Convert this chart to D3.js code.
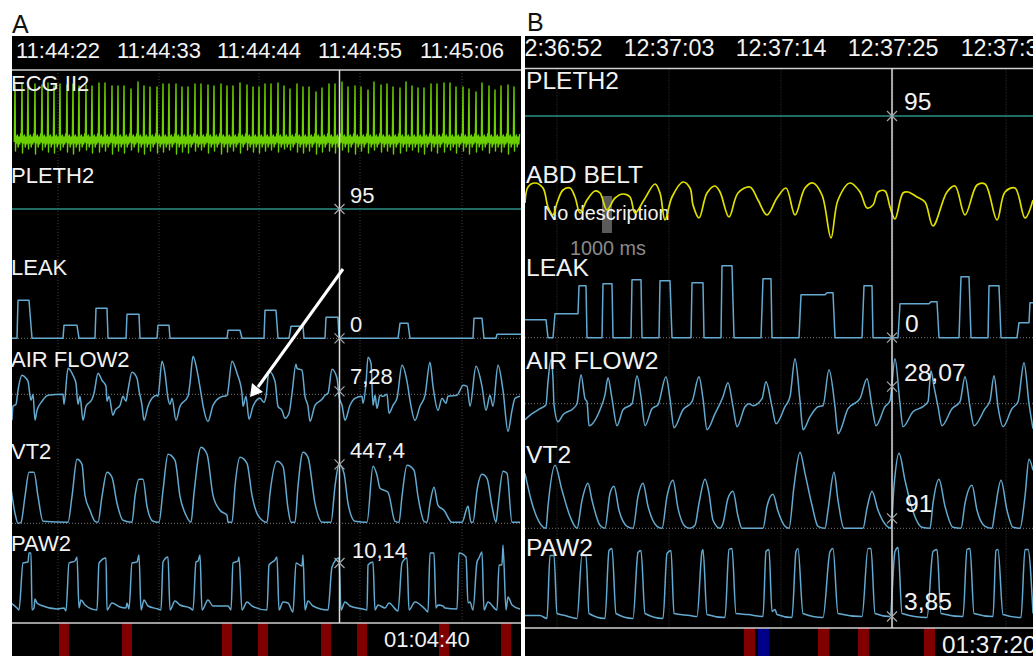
<!DOCTYPE html>
<html>

<head>
    <meta charset="utf-8" />
    <title>respiratory traces</title>
    <script src="https://cdn.jsdelivr.net/npm/d3@7"></script>
    <style>
        html,
        body {
            margin: 0;
            background: #fff;
        }

        svg {
            display: block;
        }

        text {
            font-family: "Liberation Sans", Arial, sans-serif;
        }
    </style>
</head>

<body>
    <div id="svg-canvas"></div>
    <script>
        // traces are [sample, level], one monitor sample per column, level is raw height above the strip zero
        var aTimeLabels = ['11:44:22', '11:44:33', '11:44:44', '11:44:55', '11:45:06'];
        var aTimeSamples = [46, 147, 247, 348, 450];
        var bTimeLabels = ['12:36:52', '12:37:03', '12:37:14', '12:37:25', '12:37:36'];
        var bTimeSamples = [32, 144, 256, 368, 481];

        var aEventsRed = [47, 110, 210, 246, 309, 345, 427, 489];
        var bEventsRed = [219, 293, 333, 399];
        var bEventsBlue = [233];

        var ecgBeats = [3, 10, 16, 23, 30, 36, 42, 48, 55, 61, 67, 74, 80, 87, 93, 100, 106, 112, 119, 126, 132, 138, 145, 151, 157, 164, 170, 176, 183, 189, 196, 202, 209, 215, 221, 228, 235, 241, 247, 253, 259, 266, 272, 278, 285, 291, 297, 304, 310, 317, 323, 330, 336, 343, 349, 356, 362, 369, 375, 381, 388, 394, 400, 406, 412, 419, 425, 432, 438, 444, 451, 457, 464, 470, 477, 483, 489, 496, 502];
        var ecgPeaks = [54, 55, 53, 55, 54, 56, 53, 55, 54, 55, 53, 54, 53, 56, 56, 53, 53, 53, 50, 57, 53, 52, 52, 55, 55, 55, 52, 52, 55, 55, 54, 53, 55, 53, 53, 56, 54, 52, 52, 55, 55, 56, 53, 50, 55, 52, 52, 47, 51, 55, 55, 57, 52, 53, 52, 49, 57, 54, 55, 52, 51, 57, 53, 51, 51, 55, 55, 56, 56, 52, 52, 50, 47, 56, 53, 49, 53, 54, 52];
        var ecgTroughs = [-12, -14, -10, -15, -11, -13, -14, -11, -13, -15, -12, -11, -14, -13, -12, -15, -12, -14, -11, -13, -15, -12, -14, -13, -11, -15, -13, -14, -12, -11, -14, -12, -15, -13, -12, -14, -11, -13, -14, -12, -11, -13, -10, -11, -13, -14, -12, -15, -13, -12, -14, -11, -13, -15, -12, -14, -11, -13, -12, -15, -14, -12, -11, -13, -15, -12, -14, -13, -11, -14, -12, -15, -13, -11, -14, -12, -13, -15, -12];
        // one beat after the spike, offset in samples and level, repeated under every spike
        var ecgBeatTail = [[0.9, 3], [1.6, -4], [2.4, 4], [3.2, -8], [4.0, 2], [4.8, -5], [5.6, 5]];

        var aLeak = [[-1, 0], [5, 0], [6, 38], [17, 38], [20, 0], [51, 0], [52, 13], [65, 13], [67, 0], [83, 0], [84, 30], [95, 30], [96, 0], [114, 0], [115, 24], [127, 24], [128, 0], [145, 0], [146, 13], [157, 13], [158, 0], [215, 0], [216, 8], [228, 8], [230, 0], [252, 0], [253, 28], [264, 28], [266, 0], [277, 0], [279, 12], [291, 12], [292, 0], [313, 0], [314, 21], [326, 21], [327, 0], [386, 0], [388, 15], [396, 15], [398, 0], [461, 0], [462, 20], [470, 20], [472, 0], [484, 0], [485, 4], [509, 4]];

        var aAirFlow = [[0, -26], [1, -12], [4, -10], [6, 4], [10, 19], [14, 16], [16, 13], [19, -6], [21, 0], [23, -26], [25, -16], [30, -7], [36, -1], [51, 0], [52, -10], [56, 26], [61, 19], [64, 11], [66, -10], [68, -2], [71, -26], [74, -12], [80, -5], [82, 1], [86, 21], [90, 14], [94, 8], [95, -7], [97, -2], [101, -21], [103, -16], [108, -11], [111, -2], [114, -7], [116, 4], [120, 22], [125, 16], [127, 4], [130, -11], [132, -26], [136, -12], [140, -4], [145, -1], [146, -2], [150, 33], [153, 21], [156, -4], [158, -10], [160, -4], [164, -26], [168, -12], [176, -2], [178, 11], [181, 38], [185, 24], [189, 1], [191, -11], [196, -27], [201, -11], [208, -3], [215, -1], [220, 33], [225, 21], [230, 1], [231, -12], [234, -2], [237, -25], [241, -12], [248, -4], [252, -8], [254, -2], [257, 23], [263, 13], [266, -12], [270, -16], [273, -24], [277, -19], [280, 1], [284, 30], [285, 26], [290, 24], [293, -2], [296, -12], [298, -27], [303, -11], [310, -5], [313, -1], [316, 1], [320, 25], [325, 16], [327, -2], [330, -11], [333, -26], [338, -11], [343, -4], [350, -2], [351, -9], [354, 11], [356, 37], [359, 31], [361, -11], [363, -1], [365, -14], [368, -1], [371, -2], [375, 0], [377, -19], [381, -11], [385, -4], [390, 29], [395, 13], [398, -6], [403, -26], [408, -12], [413, -1], [418, 32], [421, 8], [426, -16], [430, -4], [434, -9], [436, -2], [445, -1], [448, 4], [451, 9], [455, 8], [458, -12], [464, 28], [470, 8], [474, -16], [478, -1], [481, -12], [486, 29], [491, 4], [496, -37], [500, -16], [503, -4], [508, -2]];

        var aVt = [[-1, 35], [3, 10], [6, 0], [9, 1], [13, 27], [17, 51], [22, 51], [26, 27], [31, 2], [56, 1], [60, 27], [65, 64], [70, 59], [73, 28], [78, 13], [83, 2], [86, 1], [90, 27], [95, 51], [100, 46], [105, 20], [111, 3], [120, 1], [123, 27], [127, 44], [131, 44], [135, 17], [141, 2], [147, 1], [151, 33], [156, 69], [163, 63], [168, 27], [174, 8], [179, 1], [182, 30], [189, 76], [195, 69], [201, 28], [208, 13], [215, 8], [216, 1], [220, 1], [223, 37], [228, 66], [235, 60], [240, 28], [246, 8], [255, 1], [258, 30], [265, 62], [271, 57], [276, 15], [279, 1], [283, 1], [286, 37], [291, 71], [296, 66], [303, 20], [310, 1], [319, 1], [323, 37], [327, 59], [332, 50], [336, 20], [343, 2], [355, 1], [361, 57], [365, 48], [368, 35], [376, 31], [383, 2], [387, 1], [390, 27], [395, 58], [402, 53], [406, 27], [412, 2], [415, 1], [418, 20], [422, 36], [426, 18], [432, 13], [440, 1], [450, 1], [456, 17], [459, 1], [461, 1], [465, 33], [470, 49], [475, 45], [480, 17], [484, 1], [486, 17], [491, 52], [495, 50], [500, 1], [508, 1]];

        var aPaw = [[-1, 7], [5, 2], [7, 0], [11, 47], [16, 48], [17, 57], [19, 57], [20, 0], [22, 2], [23, 11], [25, 7], [31, 4], [45, 1], [52, 2], [54, -1], [57, 47], [63, 49], [65, 53], [67, 2], [69, 10], [73, 5], [85, 0], [87, 47], [94, 52], [95, 0], [100, 7], [108, 3], [114, 2], [115, 7], [117, 1], [120, 47], [125, 48], [127, 55], [129, 0], [132, 10], [136, 4], [146, 1], [149, 0], [151, 48], [156, 53], [158, 0], [163, 9], [168, 5], [178, 2], [181, 0], [184, 48], [186, 49], [188, 55], [190, 0], [196, 10], [201, 4], [216, 4], [219, 0], [221, 47], [226, 49], [227, 53], [230, 0], [235, 8], [240, 4], [255, 0], [257, 45], [263, 50], [265, 53], [267, 0], [271, 8], [276, 7], [281, -2], [284, 47], [290, 44], [291, 55], [293, 0], [296, 9], [301, 4], [316, 0], [320, 43], [327, 52], [329, 0], [333, 8], [338, 4], [351, 1], [355, 0], [356, 45], [361, 48], [363, 0], [366, 5], [373, 2], [377, 7], [386, -1], [390, 47], [395, 52], [397, 0], [403, 8], [413, 1], [416, -2], [418, 57], [422, 57], [424, 2], [426, 5], [431, 4], [433, 2], [445, 1], [447, 57], [454, 53], [456, 7], [458, 8], [461, 0], [465, 48], [467, 52], [470, 58], [472, 0], [476, 8], [485, 0], [487, 45], [490, 45], [491, 65], [494, 0], [496, 13], [500, 5], [508, 1]];

        var bAbdBelt = [[0, -3], [3, 13], [10, 17], [18, 12], [23, -7], [28, -15], [32, -3], [38, 10], [45, 12], [50, 3], [55, -13], [62, 0], [70, 9], [75, 7], [82, -10], [90, 2], [98, 6], [105, 3], [110, -13], [119, 0], [130, 16], [135, 7], [140, -20], [147, 3], [158, 18], [165, 12], [168, -5], [174, -18], [182, 7], [190, 14], [195, 8], [204, -17], [213, 7], [225, 13], [233, 0], [242, -15], [252, 2], [261, 12], [270, -15], [280, 12], [288, 17], [297, 5], [306, -38], [313, 0], [325, 17], [335, 8], [342, -8], [348, -5], [353, 8], [360, 9], [365, -7], [370, -19], [378, 7], [383, 8], [392, 3], [400, -2], [408, -26], [422, 8], [430, 14], [440, -15], [452, 15], [460, 16], [472, -20], [480, 8], [490, 12], [500, -18], [508, 0]];

        var bLeak = [[0, 18], [21, 18], [23, 0], [28, 0], [30, 24], [53, 24], [54, 52], [61, 52], [62, 0], [77, 0], [78, 54], [87, 54], [88, 0], [106, 0], [107, 58], [116, 58], [117, 0], [134, 0], [135, 57], [145, 57], [147, 0], [166, 0], [167, 55], [178, 55], [179, 0], [196, 0], [197, 72], [207, 72], [209, 0], [236, 0], [238, 59], [246, 59], [247, 0], [274, 0], [276, 43], [300, 43], [302, 45], [308, 45], [310, 0], [337, 0], [339, 52], [347, 52], [348, 0], [373, 0], [375, 34], [404, 34], [406, 36], [412, 36], [414, 0], [434, 0], [436, 61], [444, 61], [446, 0], [463, 0], [464, 52], [474, 52], [476, 0], [492, 0], [494, 15], [504, 15], [505, 35], [508, 35]];

        var bAirFlow = [[0, -16], [7, -10], [15, -5], [21, -1], [23, 22], [26, 44], [28, 25], [29, -1], [33, -18], [38, -11], [48, -5], [52, 0], [56, 29], [60, 5], [62, 2], [64, -22], [75, -6], [80, 9], [83, 26], [87, 5], [92, -22], [98, -6], [107, 0], [112, 28], [116, 7], [120, -22], [127, -5], [133, -1], [141, 27], [145, 5], [149, -24], [158, -6], [167, 2], [174, 27], [178, 5], [182, -26], [190, -10], [198, 7], [203, 21], [208, -3], [212, -23], [220, -3], [224, 0], [228, -2], [237, 5], [241, 22], [247, -3], [251, -20], [260, -3], [265, 7], [270, 45], [275, 3], [278, -26], [285, -13], [293, -3], [298, -2], [304, 34], [310, -3], [313, -30], [323, -5], [335, 5], [342, 25], [347, -3], [351, -22], [360, -3], [365, 3], [370, 45], [375, 0], [378, -23], [388, -8], [398, -3], [403, 2], [406, 33], [409, 17], [413, -3], [417, -22], [427, -5], [435, 2], [440, 27], [445, -3], [449, -22], [460, -5], [465, 3], [469, 28], [473, -3], [478, -23], [487, -5], [493, 2], [499, 41], [504, 0], [508, -25]];

        var bVt = [[0, 55], [7, 25], [15, 5], [21, 0], [23, 22], [30, 63], [37, 38], [45, 12], [52, 0], [57, 28], [63, 45], [67, 28], [75, 3], [80, 0], [85, 35], [89, 42], [94, 18], [102, 2], [108, 0], [113, 32], [118, 45], [123, 22], [132, 2], [137, 0], [142, 32], [148, 48], [153, 20], [160, 2], [165, 0], [170, 3], [174, 25], [180, 49], [184, 35], [188, 8], [195, 0], [198, 5], [203, 30], [208, 37], [213, 12], [217, 0], [238, 0], [242, 22], [248, 34], [253, 17], [260, 2], [264, 0], [269, 42], [275, 76], [280, 55], [287, 23], [293, 2], [300, 0], [303, 18], [309, 56], [313, 28], [319, 0], [338, 0], [342, 20], [347, 37], [353, 18], [362, 2], [366, 0], [369, 42], [374, 75], [380, 48], [387, 20], [397, 1], [405, 0], [408, 25], [414, 49], [420, 22], [428, 1], [436, 0], [440, 25], [447, 43], [452, 18], [460, 2], [467, 0], [470, 18], [476, 48], [482, 18], [488, 1], [495, 0], [500, 32], [504, 69], [508, 58]];

        var bPaw = [[0, 1], [15, 1], [22, -2], [25, 61], [29, 61], [32, 3], [40, 1], [52, -2], [57, 61], [61, 61], [64, 3], [80, -2], [84, 66], [87, 68], [91, 3], [108, -2], [113, 64], [116, 66], [120, 3], [138, -2], [142, 63], [146, 66], [149, 3], [165, 1], [172, 0], [177, 65], [178, 67], [182, 2], [200, -1], [204, 67], [207, 68], [211, 3], [223, 2], [238, 0], [241, 65], [244, 67], [247, 5], [250, 7], [252, 2], [267, -1], [271, 65], [273, 68], [278, 3], [298, -1], [305, 65], [308, 68], [313, 3], [337, 0], [343, 68], [346, 68], [350, 3], [365, 0], [370, 65], [373, 69], [377, 3], [402, -1], [408, 65], [412, 67], [416, 3], [438, 0], [442, 67], [445, 68], [449, 3], [468, 0], [471, 66], [473, 67], [478, 2], [496, -1], [500, 67], [503, 67], [508, 3]];

        var flatLine = [[-2, 0], [510, 0]];

        var ecgTrace = [];
        ecgBeats.forEach(function (s, i) {
            ecgTrace.push([s - 0.7, -3], [s, ecgPeaks[i]], [s + 0.5, ecgTroughs[i]]);
            ecgBeatTail.forEach(function (t) {
                ecgTrace.push([s + t[0], t[1]]);
            });
        });

        var blue = '#64a9cf';
        var rounded = d3.curveMonotoneX;
        var panels = [{
            name: 'A', nameX: 12, nameY: 33, nameSize: 25,
            left: 12, right: 521, top: 36, headLine: 70, footLine: 623,
            cursor: 327.5, timeLabels: aTimeLabels, timeSamples: aTimeSamples, timeSize: 22, timeY: 58,
            labelSize: 22, labelX: 11,
            clock: '01:04:40', clockX: 384, clockSize: 22, clockY: 647, eventW: 10,
            events: [{ at: aEventsRed, color: '#800000' }],
            strips: [
                { label: 'ECG II2', labelY: 91, base: 139, trace: ecgTrace, color: '#6ccf00', width: 1.4 },
                { label: 'PLETH2', labelY: 183, base: 209, trace: flatLine, color: '#2c8f84', width: 1.6, value: '95', level: 0, valueX: 350, valueY: 203 },
                { label: 'LEAK', labelY: 275, base: 338.3, trace: aLeak, color: blue, zero: true, value: '0', level: 0, valueX: 350, valueY: 332 },
                { label: 'AIR FLOW2', labelY: 367, base: 394.3, trace: aAirFlow, color: blue, curve: rounded, zero: true, value: '7,28', level: 3, valueX: 350, valueY: 384 },
                { label: 'VT2', labelY: 459, base: 523.3, trace: aVt, color: blue, curve: rounded, zero: true, value: '447,4', level: 59, valueX: 350, valueY: 458 },
                { label: 'PAW2', labelY: 551, base: 610, trace: aPaw, color: blue, curve: rounded, value: '10,14', level: 47, valueX: 352, valueY: 558 }
            ]
        }, {
            name: 'B', nameX: 527, nameY: 31, nameSize: 25,
            left: 525, right: 1033, top: 36, headLine: 68.5, footLine: 628,
            cursor: 367, timeLabels: bTimeLabels, timeSamples: bTimeSamples, timeSize: 23.3, timeY: 56,
            labelSize: 24.6, labelX: 526,
            clock: '01:37:20', clockX: 942, clockSize: 24.3, clockY: 653, eventW: 11,
            events: [{ at: bEventsRed, color: '#800000' }, { at: bEventsBlue, color: '#000088' }],
            strips: [
                { label: 'PLETH2', labelY: 89, base: 116, trace: flatLine, color: '#2c8f84', width: 1.6, value: '95', level: 0, valueX: 904, valueY: 110 },
                { label: 'ABD BELT', labelY: 183, base: 200, trace: bAbdBelt, color: '#e0e000', curve: d3.curveCatmullRom.alpha(0.5), width: 1.7 },
                { label: 'LEAK', labelY: 276, base: 337.7, trace: bLeak, color: blue, zero: true, value: '0', level: 0, valueX: 905, valueY: 332 },
                { label: 'AIR FLOW2', labelY: 369, base: 403.7, trace: bAirFlow, color: blue, curve: rounded, zero: true, value: '28,07', level: 17, valueX: 904, valueY: 381 },
                { label: 'VT2', labelY: 463, base: 528.3, trace: bVt, color: blue, curve: rounded, zero: true, value: '91', level: 10, valueX: 905, valueY: 512 },
                { label: 'PAW2', labelY: 556, base: 616.5, trace: bPaw, color: blue, curve: rounded, value: '3,85', level: 0, valueX: 904, valueY: 610 }
            ]
        }];

        var height = 656;
        var svg = d3.select('#svg-canvas').append('svg')
            .attr('width', 1033)
            .attr('height', height);

        panels.forEach(drawPanel);
        drawAnnotations();

        function drawPanel(p, i) {
            var x = d3.scaleLinear().domain([0, p.right - p.left]).range([p.left, p.right]);
            var clipId = 'clip-' + i;

            svg.append('clipPath').attr('id', clipId)
                .append('rect')
                .attr('x', p.left).attr('y', p.top)
                .attr('width', p.right - p.left).attr('height', height - p.top);

            svg.append('text')
                .attr('x', p.nameX).attr('y', p.nameY)
                .attr('font-size', p.nameSize).attr('fill', '#111')
                .text(p.name);

            var g = svg.append('g').attr('clip-path', 'url(#' + clipId + ')');

            g.append('rect')
                .attr('x', p.left).attr('y', p.top)
                .attr('width', p.right - p.left).attr('height', height - p.top)
                .attr('fill', '#000');

            // time grid
            g.selectAll('.grid').data(p.timeSamples).join('line')
                .attr('x1', x).attr('x2', x)
                .attr('y1', p.headLine).attr('y2', p.footLine)
                .attr('stroke', '#3c3c3c')
                .attr('stroke-dasharray', '1,2');

            g.selectAll('.time').data(p.timeLabels).join('text')
                .attr('x', function (d, j) { return x(p.timeSamples[j]); })
                .attr('y', p.timeY)
                .attr('text-anchor', 'middle')
                .attr('font-size', p.timeSize)
                .attr('fill', '#f2f2f2')
                .text(function (d) { return d; });

            // event band
            p.events.forEach(function (ev) {
                g.selectAll(null).data(ev.at).join('rect')
                    .attr('x', x)
                    .attr('y', p.footLine)
                    .attr('width', p.eventW)
                    .attr('height', height - p.footLine)
                    .attr('fill', ev.color);
            });

            [p.headLine, p.footLine].forEach(function (yy) {
                g.append('line')
                    .attr('x1', p.left).attr('x2', p.right)
                    .attr('y1', yy).attr('y2', yy)
                    .attr('stroke', '#cfcfcf').attr('stroke-width', 1.5);
            });

            g.append('text')
                .attr('x', p.clockX).attr('y', p.clockY)
                .attr('font-size', p.clockSize)
                .attr('fill', '#f2f2f2')
                .text(p.clock);

            // no description marker only in B
            if (p.name === 'B') drawCalibration(g);

            p.strips.forEach(function (s) {
                var y = d3.scaleLinear().domain([0, 100]).range([s.base, s.base - 100]);

                if (s.zero) {
                    g.append('line')
                        .attr('x1', p.left).attr('x2', p.right)
                        .attr('y1', y(0)).attr('y2', y(0))
                        .attr('stroke', '#777')
                        .attr('stroke-dasharray', '1,2');
                }

                var line = d3.line()
                    .x(function (d) { return x(d[0]); })
                    .y(function (d) { return y(d[1]); })
                    .curve(s.curve || d3.curveLinear);

                g.append('path')
                    .attr('d', line(s.trace))
                    .attr('fill', 'none')
                    .attr('stroke', s.color)
                    .attr('stroke-width', s.width || 1.5)
                    .attr('stroke-linejoin', 'round');
            });

            // cursor
            g.append('line')
                .attr('x1', x(p.cursor)).attr('x2', x(p.cursor))
                .attr('y1', p.headLine).attr('y2', p.footLine)
                .attr('stroke', '#dcdcdc').attr('stroke-width', 1.5);

            p.strips.forEach(function (s) {
                var y = d3.scaleLinear().domain([0, 100]).range([s.base, s.base - 100]);

                g.append('text')
                    .attr('x', p.labelX).attr('y', s.labelY)
                    .attr('font-size', p.labelSize)
                    .attr('fill', '#f2f2f2')
                    .text(s.label);

                if (s.value === undefined) return;

                var cx = x(p.cursor);
                var cy = y(s.level);
                g.append('path')
                    .attr('d', 'M' + (cx - 5) + ',' + (cy - 5) + 'L' + (cx + 5) + ',' + (cy + 5) +
                        'M' + (cx - 5) + ',' + (cy + 5) + 'L' + (cx + 5) + ',' + (cy - 5))
                    .attr('stroke', '#a8a8a8').attr('stroke-width', 1.2);

                g.append('text')
                    .attr('x', s.valueX).attr('y', s.valueY)
                    .attr('font-size', p.labelSize)
                    .attr('fill', '#f2f2f2')
                    .text(s.value);
            });
        }

        function drawCalibration(g) {
            g.append('rect')
                .attr('x', 602).attr('y', 196)
                .attr('width', 10).attr('height', 37)
                .attr('fill', '#5a5a5a');
            g.append('text')
                .attr('x', 543).attr('y', 220)
                .attr('font-size', 19.8).attr('fill', '#f2f2f2')
                .text('No description');
            g.append('text')
                .attr('x', 570).attr('y', 255)
                .attr('font-size', 19.8).attr('fill', '#8a8a8a')
                .text('1000 ms');
        }

        function drawAnnotations() {
            svg.append('line')
                .attr('x1', 343).attr('y1', 269)
                .attr('x2', 258).attr('y2', 387)
                .attr('stroke', '#fff').attr('stroke-width', 3);
            svg.append('polygon')
                .attr('points', '250,397 263,392 252,383')
                .attr('fill', '#fff');
        }
    </script>
</body>

</html>
